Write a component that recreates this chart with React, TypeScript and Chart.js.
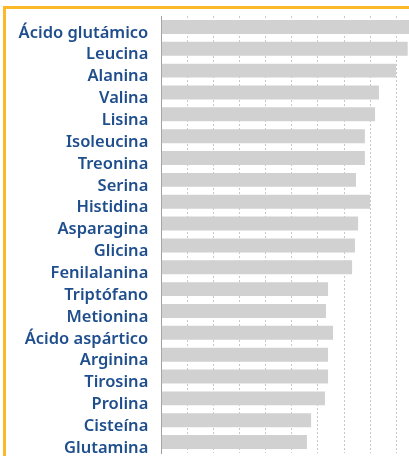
import React, { useEffect, useRef } from "react";
import { Chart, registerables } from "chart.js";

Chart.register(...registerables);

const categories = [
  "Ácido glutámico",
  "Leucina",
  "Alanina",
  "Valina",
  "Lisina",
  "Isoleucina",
  "Treonina",
  "Serina",
  "Histidina",
  "Asparagina",
  "Glicina",
  "Fenilalanina",
  "Triptófano",
  "Metionina",
  "Ácido aspártico",
  "Arginina",
  "Tirosina",
  "Prolina",
  "Cisteína",
  "Glutamina",
];

const values = [
  9.6, 9.44, 8.99, 8.34, 8.19, 7.8, 7.8, 7.46, 8.0, 7.54, 7.42, 7.31, 6.39,
  6.31, 6.58, 6.39, 6.39, 6.27, 5.74, 5.58,
];

const xMin = 0;
const xMax = 10;
const xStep = 1;

export default function App() {
  const ref = useRef<HTMLCanvasElement>(null);

  useEffect(() => {
    const chart = new Chart(ref.current!, {
      type: "bar",
      data: {
        labels: categories,
        datasets: [
          {
            data: values,
            backgroundColor: "#d1d1d1",
            borderWidth: 0,
            barPercentage: 0.8,
            categoryPercentage: 0.8,
          },
        ],
      },
      options: {
        indexAxis: "y",
        responsive: false,
        animation: false,
        layout: { padding: { top: 7, right: 3.7, bottom: 3, left: 0 } },
        plugins: {
          legend: { display: false },
          tooltip: { enabled: false },
        },
        scales: {
          x: {
            min: xMin,
            max: xMax,
            ticks: { display: false, stepSize: xStep },
            grid: {
              display: true,
              drawTicks: false,
              color: "rgba(0,0,0,0.22)",
              lineWidth: 1,
            },
            border: { display: false, dash: [2, 2] },
            afterFit: (s: any) => {
              s.height = 0;
              s.paddingLeft = 0;
              s.paddingRight = 0;
            },
          },
          y: {
            ticks: {
              color: "#1f4e8c",
              padding: 13,
              labelOffset: 6,
              autoSkip: false,
              font: { family: "Noto Sans", size: 16.5, weight: "600" },
            },
            grid: { display: false, drawTicks: false },
            border: { display: true, color: "#a0a0a0", width: 1 },
            afterFit: (s: any) => {
              s.width = 155.3;
              s.paddingTop = 0;
              s.paddingBottom = 0;
            },
          },
        },
      },
    });
    return () => chart.destroy();
  }, []);

  return (
    <div
      style={{
        position: "fixed",
        left: 0,
        top: 0,
        width: 409,
        height: 456,
        overflow: "hidden",
        background: "#fff",
      }}
    >
      <div
        style={{
          position: "absolute",
          left: 3,
          top: 6,
          width: 430,
          height: 470,
          border: "3px solid #fbb829",
        }}
      >
        <canvas
          ref={ref}
          width={420}
          height={447}
          style={{ display: "block", width: 420, height: 447 }}
        />
      </div>
    </div>
  );
}
